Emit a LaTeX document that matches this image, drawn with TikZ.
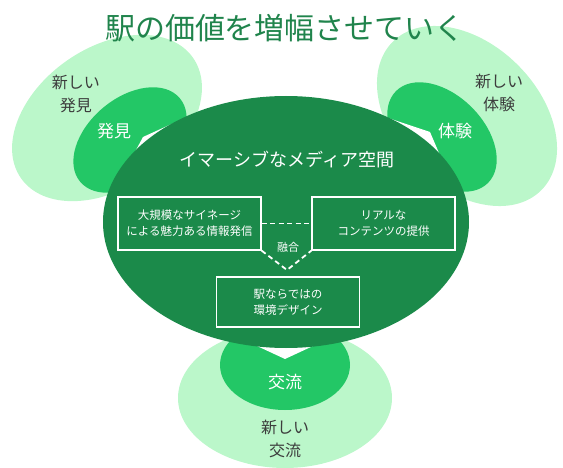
\documentclass[tikz,border=0pt]{standalone}
\usepackage{fontspec}
\setmainfont{Noto Sans CJK JP}
\definecolor{lightg}{RGB}{187,247,202}
\definecolor{midg}{RGB}{35,199,102}
\definecolor{darkg}{RGB}{27,138,74}
\definecolor{titleg}{RGB}{32,132,76}
\definecolor{txtgray}{RGB}{60,60,60}
\tikzset{
  lightell/.style={fill=lightg,draw=none},
  midell/.style={fill=midg,draw=none},
  darkell/.style={fill=darkg,draw=none},
  tail/.style={fill=white,draw=none},
  outerlbl/.style={text=txtgray,align=center,font=\fontsize{16}{23}\selectfont,inner sep=0pt},
  midlbl/.style={text=white,font=\fontsize{17}{20}\selectfont,inner sep=0pt},
  mediabox/.style={draw=white,line width=1.3pt,minimum width=143pt,minimum height=53pt,text=white,align=center,font=\fontsize{11.5}{16}\selectfont,inner sep=0pt},
  dashline/.style={draw=white,line width=1.8pt,dash pattern=on 5pt off 3.5pt}
}
\begin{document}
\begin{tikzpicture}[x=1pt,y=-1pt]
\useasboundingbox (0,0) rectangle (563,468);
% light outer ellipses
\fill[lightell,shift={(107,118)},rotate=35] (0,0) ellipse (105 and 70);
\fill[lightell,shift={(467,116)},rotate=-45] (0,0) ellipse (105 and 72);
\fill[lightell] (285,398) ellipse (107 and 70);
% medium ellipses
\fill[midell,shift={(130,140)},rotate=40] (0,0) ellipse (65 and 42);
\fill[midell,shift={(442,137)},rotate=-45] (0,0) ellipse (65 and 42);
\fill[midell] (285,365) ellipse (65 and 45);
% white tails
\fill[tail] (143,137) -- (182.6,119) -- (116,187.4) -- cycle;
\fill[tail] (430,132) -- (376,114) -- (451.6,182.4) -- cycle;
\fill[tail] (285,359) -- (243,339.5) -- (327,339.5) -- cycle;
% dark ellipse
\fill[darkell] (286,222) ellipse (183 and 126);
% title
\node[text=titleg,font=\fontsize{30}{34}\selectfont,inner sep=0pt] (title) at (285,28) {駅の価値を増幅させていく};
% outer labels
\node[outerlbl] (nl) at (76,94) {新しい\\発見};
\node[outerlbl] (nr) at (499,93) {新しい\\体験};
\node[outerlbl] (nb) at (285,439) {新しい\\交流};
% mid labels
\node[midlbl] (ml) at (114,131) {発見};
\node[midlbl] (mr) at (455,131) {体験};
\node[midlbl] (mb) at (285,382) {交流};
% main label
\node[text=white,font=\fontsize{18}{22}\selectfont,inner sep=0pt] (main) at (287,160) {イマーシブなメディア空間};
% boxes
\node[mediabox] (b1) at (189.5,223.5) {大規模なサイネージ\\による魅力ある情報発信};
\node[mediabox] (b2) at (383.5,223.5) {リアルな\\コンテンツの提供};
\node[mediabox,minimum height=50pt] (b3) at (288,302) {駅ならではの\\環境デザイン};
\coordinate (v) at (287,270);
\draw[dashline] (b1.east) -- (b2.west);
\draw[dashline] (b1.south east) -- (v) -- (b2.south west);
\node[text=white,font=\fontsize{11}{13}\selectfont,inner sep=0pt] (fuse) at (288,247) {融合};
\end{tikzpicture}
\end{document}
